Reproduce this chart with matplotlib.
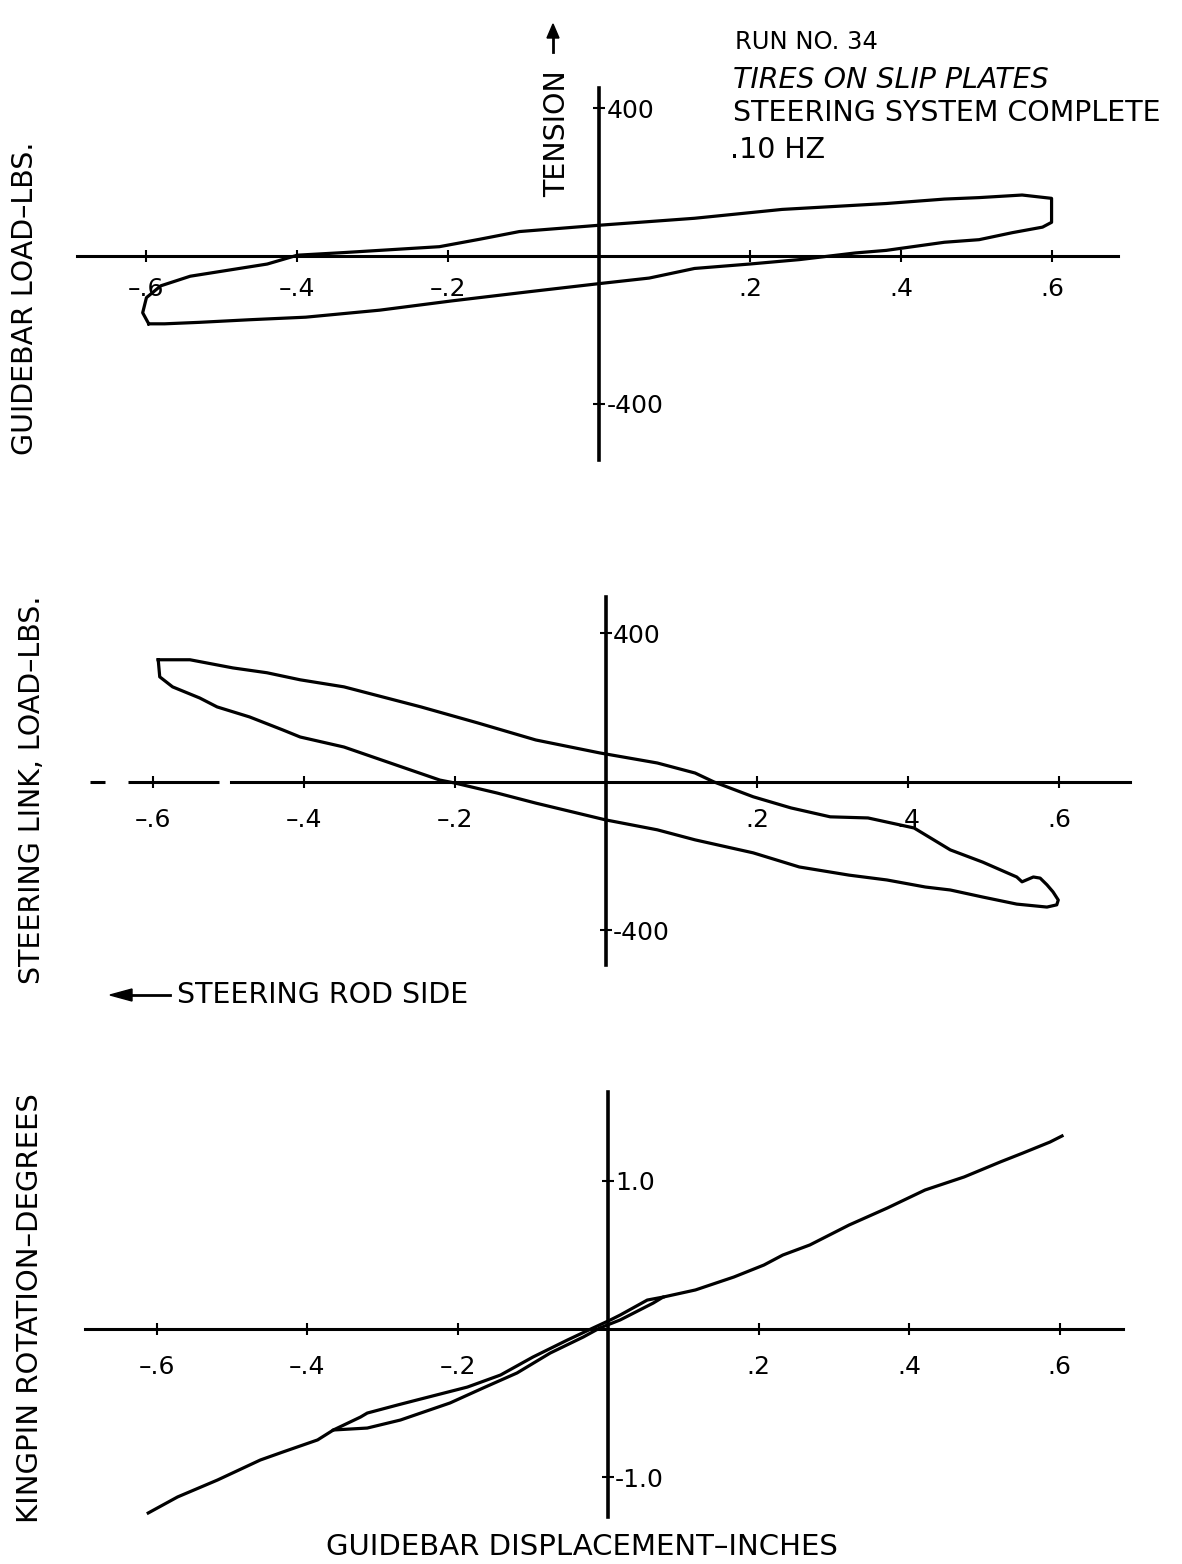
import matplotlib.pyplot as plt

plt.rcParams['font.family'] = ['DejaVu Sans']

# guidebar load loop (run 34): displacement in inches, load in lbs
gb_disp = [-0.597, -0.576, -0.530, -0.464, -0.389, -0.291, -0.196, -0.093, 0.000, 0.066,
           0.126, 0.199, 0.265, 0.339, 0.380, 0.457, 0.503, 0.547, 0.587, 0.599, 0.599,
           0.560, 0.503, 0.457, 0.380, 0.242, 0.126, -0.001, -0.106, -0.159, -0.212,
           -0.339, -0.400, -0.440, -0.542, -0.581, -0.600, -0.605, -0.597]
gb_load = [-184, -184, -180, -173, -166, -147, -122, -97, -75, -60,
           -34, -22, -10, 8, 15, 37, 44, 63, 78, 91, 156,
           165, 158, 154, 142, 126, 102, 83, 66, 45, 25,
           9, 2, -22, -55, -81, -113, -154, -184]

# steering link load loop
sl_disp = [-0.593, -0.551, -0.494, -0.449, -0.405, -0.347, -0.245, -0.170, -0.093, -0.008,
           0.068, 0.118, 0.143, 0.195, 0.245, 0.297, 0.347, 0.408, 0.456, 0.499,
           0.544, 0.551, 0.566, 0.575, 0.584, 0.592, 0.599, 0.597,
           0.584, 0.544, 0.499, 0.456, 0.423, 0.372, 0.322, 0.256, 0.195, 0.118,
           0.068, -0.001, -0.093, -0.144, -0.200, -0.220, -0.270, -0.347, -0.405, -0.428,
           -0.472, -0.515, -0.538, -0.574, -0.591, -0.593]
sl_load = [329, 329, 307, 294, 275, 256, 202, 159, 113, 78,
           51, 24, 0, -40, -70, -94, -97, -124, -183, -216,
           -256, -269, -256, -259, -277, -296, -318, -331,
           -337, -329, -310, -291, -283, -264, -251, -229, -191, -156,
           -129, -102, -57, -30, -3, 5, 40, 94, 121, 140,
           175, 202, 226, 256, 283, 329]

# kingpin rotation, two strokes of the trace
kp_disp = [-0.611, -0.572, -0.519, -0.462, -0.432, -0.386, -0.365, -0.320, -0.276, -0.210,
           -0.166, -0.121, -0.077, -0.033, -0.011, 0.016, 0.060, 0.073, 0.116, 0.167,
           0.207, 0.232, 0.268, 0.320, 0.371, 0.421, 0.473, 0.521, 0.551, 0.587, 0.603]
kp_deg = [-1.239, -1.131, -1.017, -0.882, -0.828, -0.747, -0.680, -0.667, -0.613, -0.498,
          -0.397, -0.296, -0.162, -0.054, 0.007, 0.061, 0.175, 0.215, 0.263, 0.350,
          0.431, 0.498, 0.566, 0.700, 0.815, 0.936, 1.024, 1.125, 1.185, 1.259, 1.300]
kp_ret_disp = [-0.365, -0.329, -0.320, -0.280, -0.254, -0.187, -0.143, -0.100, -0.054,
               -0.020, 0.003, 0.016, 0.052, 0.073]
kp_ret_deg = [-0.680, -0.593, -0.566, -0.512, -0.478, -0.391, -0.310, -0.189, -0.074,
              0.007, 0.061, 0.094, 0.195, 0.215]

x_ticks = [-0.6, -0.4, -0.2, 0.2, 0.4, 0.6]
x_labels = ['–.6', '–.4', '–.2', '.2', '.4', '.6']

W, H = 1182, 1564
fig = plt.figure(figsize=(W / 100, H / 100), dpi=100)


def panel(left, right, top, bottom, xlim, ylim, yticks, ylabels, xpad):
    ax = fig.add_axes([left / W, 1 - bottom / H, (right - left) / W, (bottom - top) / H])
    ax.set_xlim(xlim)
    ax.set_ylim(ylim)
    ax.patch.set_visible(False)
    ax.spines['left'].set_visible(False)
    ax.spines['top'].set_visible(False)
    ax.spines['right'].set_position(('data', 0))
    ax.spines['bottom'].set_position(('data', 0))
    ax.spines['right'].set_linewidth(2.6)
    ax.spines['bottom'].set_linewidth(2.2)
    ax.yaxis.set_ticks_position('right')
    ax.xaxis.set_ticks_position('bottom')
    ax.set_xticks(x_ticks)
    ax.set_xticklabels(x_labels)
    ax.set_yticks(yticks)
    ax.set_yticklabels(ylabels)
    ax.tick_params(axis='x', direction='inout', length=8, width=1.5, pad=xpad, labelsize=18)
    ax.tick_params(axis='y', direction='inout', length=8, width=1.5, pad=1, labelsize=18)
    return ax


ax1 = panel(77, 1118, 88, 460, (-0.692, 0.687), (-553, 455),
            [400, -400], ['400', '-400'], 11)
ax1.plot(gb_disp, gb_load, color='black', lw=2.3)

ax2 = panel(88, 1130, 597, 965, (-0.686, 0.694), (-493, 498),
            [400, -400], ['400', '-400'], 15)
ax2.plot(sl_disp, sl_load, color='black', lw=2.3)
# broken stretch of the scanned zero line on the left
ax2.spines['bottom'].set_bounds(-0.497, 0.694)
ax2.hlines([0, 0], [-0.683, -0.633], [-0.663, -0.513], color='black', lw=2.2)

ax3 = panel(85, 1123, 1092, 1517, (-0.695, 0.684), (-1.266, 1.596),
            [1.0, -1.0], ['1.0', '-1.0'], 15)
ax3.plot(kp_disp, kp_deg, color='black', lw=2.3)
ax3.plot(kp_ret_disp, kp_ret_deg, color='black', lw=2.3)

# annotations
fs = 20.5
fig.text(25 / W, 1 - 298 / H, 'GUIDEBAR LOAD–LBS.', rotation=90, fontsize=fs,
         ha='center', va='center')
fig.text(32 / W, 1 - 790 / H, 'STEERING LINK, LOAD–LBS.', rotation=90, fontsize=fs,
         ha='center', va='center')
fig.text(30 / W, 1 - 1308 / H, 'KINGPIN ROTATION–DEGREES', rotation=90, fontsize=21,
         ha='center', va='center')
fig.text(582 / W, 1 - 1547 / H, 'GUIDEBAR DISPLACEMENT–INCHES', fontsize=21,
         ha='center', va='center')
fig.text(557 / W, 1 - 134 / H, 'TENSION', rotation=90, fontsize=fs,
         ha='center', va='center')
fig.text(177 / W, 1 - 995 / H, 'STEERING ROD SIDE', fontsize=fs, ha='left', va='center')

fig.text(735 / W, 1 - 42 / H, 'RUN NO. 34', fontsize=17.5, ha='left', va='center')
fig.text(733 / W, 1 - 80 / H, 'TIRES ON SLIP PLATES', fontsize=fs, style='italic',
         ha='left', va='center')
fig.text(733 / W, 1 - 113 / H, 'STEERING SYSTEM COMPLETE', fontsize=fs,
         ha='left', va='center')
fig.text(730 / W, 1 - 150 / H, '.10 HZ', fontsize=fs, ha='left', va='center')

# small arrows next to TENSION and STEERING ROD SIDE
fig.add_artist(plt.Line2D([553 / W, 553 / W], [1 - 52 / H, 1 - 36 / H],
                          color='black', lw=2))
fig.add_artist(plt.Polygon([[547 / W, 1 - 38 / H], [559 / W, 1 - 38 / H], [553 / W, 1 - 24 / H]],
                           closed=True, color='black'))
fig.add_artist(plt.Line2D([125 / W, 170 / W], [1 - 995 / H, 1 - 995 / H],
                          color='black', lw=2))
fig.add_artist(plt.Polygon([[110 / W, 1 - 995 / H], [132 / W, 1 - 989 / H], [132 / W, 1 - 1001 / H]],
                           closed=True, color='black'))

fig.savefig('out.png', dpi=100)
